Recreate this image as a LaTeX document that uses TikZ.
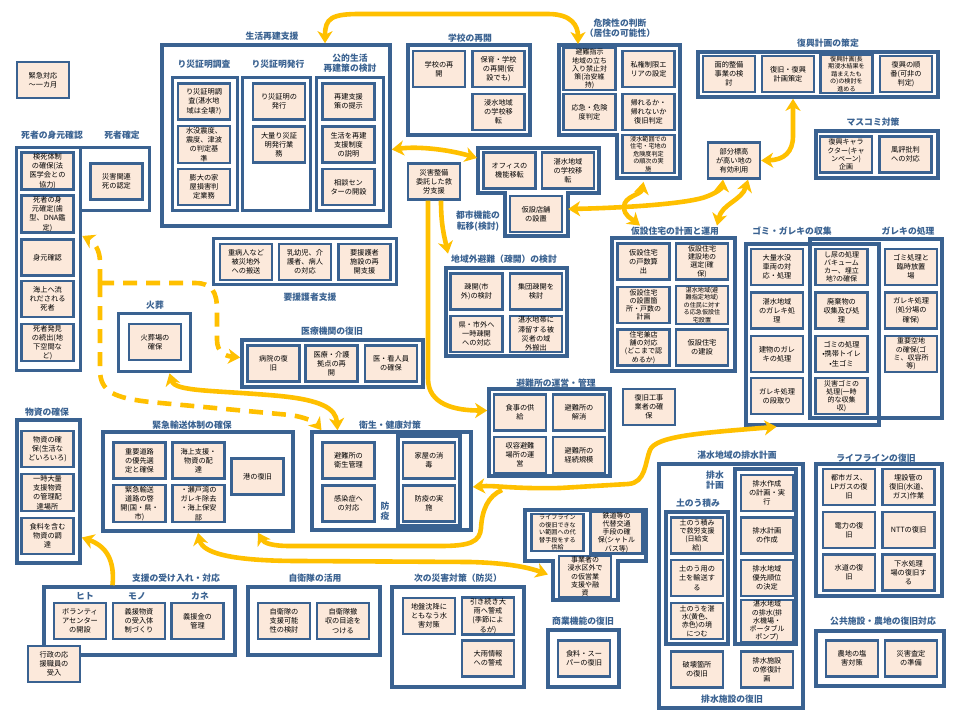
\documentclass[tikz,border=0pt]{standalone}
\usepackage{fontspec}
\setmainfont{Noto Sans CJK JP}
\usepackage{tikz}
\usetikzlibrary{arrows.meta,positioning,calc}
\definecolor{frameblue}{HTML}{3A6291}
\definecolor{cardfill}{HTML}{FCE9DB}
\definecolor{linkgold}{HTML}{FFC000}
\tikzset{
  card/.style={draw=frameblue,fill=cardfill,line width=2.2pt,
               minimum width=52pt,minimum height=36pt,inner sep=1pt,
               align=center,font=\fontsize{7.2}{9.2}\selectfont},
  tightcard/.style={card,font=\fontsize{7}{8.2}\selectfont},
  tinycard/.style={card,font=\fontsize{6.1}{7.5}\selectfont},
  groupframe/.style={draw=frameblue,line width=3.6pt,inner sep=0pt},
  subframe/.style={draw=frameblue,line width=3.2pt,inner sep=0pt},
  grouphead/.style={text=frameblue,font=\fontsize{8.8}{10.4}\selectfont\bfseries,
                    align=center,inner sep=1pt},
  link/.style={draw=linkgold,line width=4.6pt,
               arrows={-Stealth[length=12pt,width=15pt,inset=3.5pt]}},
  twoway/.style={link,arrows={Stealth[length=12pt,width=15pt,inset=3.5pt]-Stealth[length=12pt,width=15pt,inset=3.5pt]}},
  dashlink/.style={link,dash pattern=on 14pt off 9pt}
}

\begin{document}
\begin{tikzpicture}[x=1pt,y=-1pt]
  \fill[white] (0,0) rectangle (953,720);

  % group frames
  \node[groupframe,minimum width=228pt,minimum height=181pt] (seikatsu) at (276,135.5) {};
  \node[subframe,minimum width=65pt,minimum height=133pt] (sf-chousa) at (205,144) {};
  \node[subframe,minimum width=68pt,minimum height=133pt] (sf-hakkou) at (276.5,144) {};
  \node[subframe,minimum width=67pt,minimum height=133pt] (sf-kouteki) at (350,144) {};
  \node[groupframe,minimum width=64pt,minimum height=223pt] (shisha1) at (48.5,259) {};
  \node[groupframe,minimum width=69pt,minimum height=63pt] (shisha2) at (115,179) {};
  \node[groupframe,minimum width=72pt,minimum height=58pt] (kasou) at (154.5,342.5) {};
  \node[groupframe,minimum width=183pt,minimum height=46pt] (youengo) at (305,261.5) {};
  \node[groupframe,minimum width=181pt,minimum height=47pt] (iryou) at (332.5,363.5) {};
  \node[groupframe,minimum width=63pt,minimum height=143pt] (busshi) at (48.5,491.5) {};
  \node[groupframe,minimum width=190pt,minimum height=99pt] (yusou) at (198,481.5) {};
  \node[groupframe,minimum width=159pt,minimum height=98pt] (eisei) at (391.5,481) {};
  \node[subframe,minimum width=62pt,minimum height=90pt] (sf-boueki) at (429,481) {};
  \node[groupframe,minimum width=191pt,minimum height=68pt] (ukeire) at (139.5,621) {};
  \node[groupframe,minimum width=132pt,minimum height=68pt] (jieitai) at (314,621) {};
  \node[groupframe,minimum width=132pt,minimum height=100pt] (bousai) at (458,637) {};
  \node[groupframe,minimum width=71pt,minimum height=57pt] (shougyou) at (583.5,658.5) {};
  \node[groupframe,minimum width=122pt,minimum height=90pt] (gakkou) at (469,90) {};
  \node[groupframe,minimum width=240pt,minimum height=45pt] (fukkou) at (818,74.5) {};
  \node[groupframe,minimum width=122pt,minimum height=47pt] (masukomi) at (877,154.5) {};
  \node[groupframe,minimum width=123pt,minimum height=133pt] (kasetsu) at (673.5,304.5) {};
  \node[groupframe,minimum width=133pt,minimum height=181pt] (gomi) at (812.5,334.5) {};
  \node[groupframe,minimum width=132pt,minimum height=179pt] (gareki) at (876,328.5) {};
  \node[groupframe,minimum width=144pt,minimum height=244pt] (haisui) at (731,586) {};
  \node[subframe,minimum width=62pt,minimum height=132pt] (sf-donou) at (697,578) {};
  \node[subframe,minimum width=61pt,minimum height=175pt] (sf-haisui) at (765.5,556.5) {};
  \node[groupframe,minimum width=126pt,minimum height=132pt] (lifeline) at (879,530) {};
  \node[groupframe,minimum width=128pt,minimum height=55pt] (koukyou) at (880,658.5) {};
  \node[groupframe,minimum width=121pt,minimum height=88pt] (sokai) at (506.5,312) {};
  \node[groupframe,minimum width=121pt,minimum height=87pt] (hinanjo) at (549.5,432.5) {};

  % stepped frames
  \draw[frameblue,line width=3.6pt] (559,45) -- (680,45) -- (680,178) -- (617,178)
    -- (617,135) -- (559,135) -- cycle;
  \draw[frameblue,line width=3.6pt] (478,148) -- (599,148) -- (599,193) -- (568,193)
    -- (568,236) -- (505,236) -- (505,193) -- (478,193) -- cycle;
  \draw[frameblue,line width=3.6pt] (525,510) -- (646,510) -- (646,561) -- (618,561)
    -- (618,600) -- (553,600) -- (553,561) -- (525,561) -- cycle;
  \coordinate (kikentop) at (578,44);
  \coordinate (toshiwest) at (477,158);

  % headings
  \node[grouphead] (h-seikatsu) at (272,36) {生活再建支援};
  \node[grouphead] (h-chousa) at (204,64) {り災証明調査};
  \node[grouphead] (h-hakkou) at (278,64) {り災証明発行};
  \node[grouphead] (h-kouteki) at (350,63) {公的生活\\再建策の検討};
  \node[grouphead] (h-mimoto) at (52,135) {死者の身元確認};
  \node[grouphead] (h-kakutei) at (122,135) {死者確定};
  \node[grouphead] (h-kasou) at (155,305) {火葬};
  \node[grouphead] (h-youengo) at (310,297) {要援護者支援};
  \node[grouphead] (h-iryou) at (332,331) {医療機関の復旧};
  \node[grouphead] (h-busshi) at (47,412) {物資の確保};
  \node[grouphead] (h-yusou) at (192,425) {緊急輸送体制の確保};
  \node[grouphead] (h-eisei) at (390,425) {衛生・健康対策};
  \node[grouphead] (l-boueki) at (385,511) {防\\疫};
  \node[grouphead] (h-ukeire) at (176,578) {支援の受け入れ・対応};
  \node[grouphead] (h-hito) at (85,596) {ヒト};
  \node[grouphead] (h-mono) at (137,596) {モノ};
  \node[grouphead] (h-kane) at (200,596) {カネ};
  \node[grouphead] (h-jieitai) at (315,578) {自衛隊の活用};
  \node[grouphead] (h-bousai) at (458,578) {次の災害対策（防災）};
  \node[grouphead] (h-shougyou) at (583,621) {商業機能の復旧};
  \node[grouphead] (h-gakkou) at (470,38) {学校の再開};
  \node[grouphead] (h-toshi) at (478,221) {都市機能の\\転移(検討)};
  \node[grouphead] (h-kiken) at (620,28) {危険性の判断\\（居住の可能性）};
  \node[grouphead] (h-fukkou) at (828,43) {復興計画の策定};
  \node[grouphead] (h-masukomi) at (873,122) {マスコミ対策};
  \node[grouphead] (h-kasetsu) at (675,231) {仮設住宅の計画と運用};
  \node[grouphead] (h-gomi) at (792,231) {ゴミ・ガレキの収集};
  \node[grouphead] (h-gareki) at (908,231) {ガレキの処理};
  \node[grouphead] (h-haisui) at (737,455) {湛水地域の排水計画};
  \node[grouphead] (l-haisuikeikaku) at (715,480) {排水\\計画};
  \node[grouphead] (l-donou) at (698,503) {土のう積み};
  \node[grouphead] (l-shisetsu) at (732,699) {排水施設の復旧};
  \node[grouphead] (h-lifeline) at (876,458) {ライフラインの復旧};
  \node[grouphead] (h-koukyou) at (883,621) {公共施設・農地の復旧対応};
  \node[grouphead] (h-sokai) at (504,259) {地域外避難（疎開）の検討};
  \node[grouphead] (h-hinanjo) at (556,383) {避難所の運営・管理};

  % cards
  \node[card] (kinkyu) at (43,80) {緊急対応\\〜一カ月};

  \node[card] (chousa1) at (204,101.5) {り災証明調\\査(湛水地\\域は全壊?)};
  \node[card] (chousa2) at (204,144.5) {水没震度、\\震度、津波\\の判定基\\準};
  \node[card] (chousa3) at (204,187) {膨大の家\\屋損害判\\定業務};
  \node[card] (hakkou1) at (279,101.5) {り災証明の\\発行};
  \node[card] (hakkou2) at (279,144.5) {大量り災証\\明発行業\\務};
  \node[card] (kouteki1) at (348.5,101.5) {再建支援\\策の提示};
  \node[card] (kouteki2) at (348.5,144.5) {生活を再建\\支援制度\\の説明};
  \node[card] (kouteki3) at (348.5,187) {相談セン\\ターの開設};

  \node[card] (kenshi) at (47.5,171) {検死体制\\の確保(法\\医学会との\\協力)};
  \node[card] (mimoto1) at (47.5,214) {死者の身\\元確定(歯\\型、DNA鑑\\定)};
  \node[card] (mimoto2) at (47.5,257.5) {身元確認};
  \node[card] (kaijou) at (47.5,299) {海上へ流\\れだされる\\死者};
  \node[card] (hakken) at (47.5,342.5) {死者発見\\の続出(地\\下空間な\\ど)};
  \node[card] (kanren) at (116.5,181.5) {災害関連\\死の認定};

  \node[card] (kasouba) at (155,342) {火葬場の\\確保};

  \node[card] (juubyou) at (246,262) {重病人など\\被災地外\\への搬送};
  \node[card] (nyuuyou) at (305,262) {乳幼児、介\\護者、病人\\の対応};
  \node[card] (shisetsu) at (364.5,262) {要援護者\\施設の再\\開支援};

  \node[card] (byouin) at (273.5,363.5) {病院の復\\旧};
  \node[card] (kyoten) at (331.5,363.5) {医療・介護\\拠点の再\\開};
  \node[card] (jinin) at (391,363.5) {医・看人員\\の確保};

  \node[card] (busshi1) at (47.5,449) {物資の確\\保(生活な\\どいろいろ)};
  \node[card] (busshi2) at (47.5,492.5) {一時大量\\支援物資\\の管理配\\達場所};
  \node[card] (busshi3) at (47.5,536) {食料を含む\\物資の調\\達};

  \node[card] (douro) at (139.5,460.5) {重要道路\\の優先選\\定と確保};
  \node[card] (kaijoushien) at (198.5,460.5) {海上支援・\\物資の配\\達};
  \node[card] (minato) at (257.5,476.5) {港の復旧};
  \node[card] (keikai) at (139.5,503.5) {緊急輸送\\道路の啓\\開(国・県・\\市)};
  \node[card] (setowan) at (198.5,503.5) {・瀬戸湾の\\ガレキ除去\\・海上保安\\部};

  \node[card] (eisei1) at (348.5,460.5) {避難所の\\衛生管理};
  \node[card] (kansen) at (348.5,503.5) {感染症へ\\の対応};
  \node[card] (shoudoku) at (429,460.5) {家屋の消\\毒};
  \node[card] (boueki) at (429,503.5) {防疫の実\\施};

  \node[card] (volunteer) at (80,621) {ボランティ\\アセンター\\の開設};
  \node[card] (gienbusshi) at (139,621) {義援物資\\の受入体\\制づくり};
  \node[card] (gienkin) at (197.5,621) {義援金の\\管理};
  \node[card] (ouen) at (54,664) {行政の応\\援職員の\\受入};

  \node[card] (jieitai1) at (284,621) {自衛隊の\\支援可能\\性の検討};
  \node[card] (jieitai2) at (343,621) {自衛隊撤\\収の目途を\\つける};

  \node[card] (jiban) at (429,616) {地盤沈降に\\ともなう水\\害対策};
  \node[card] (ooame1) at (488,616) {引き続き大\\雨へ警戒\\(季節によ\\るが)};
  \node[card] (ooame2) at (488,658.5) {大雨情報\\への警戒};

  \node[card] (super) at (584,658.5) {食料・スー\\パーの復旧};

  \node[tinycard] (daitai1) at (557.5,532.5) {ライフライン\\の復旧できな\\い範囲への代\\替手段をする\\供給};
  \node[tightcard] (daitai2) at (616.5,532.5) {鉄道等の\\代替交通\\手段の確\\保(シャトル\\バス等)};
  \node[tightcard] (jigyou) at (585,576.5) {事業者の\\浸水区外で\\の仮営業\\支援や融\\資};

  \node[card] (gakkou1) at (439,69) {学校の再\\開};
  \node[card] (gakkou2) at (498.5,69) {保育・学校\\の再開(仮\\設でも)};
  \node[card] (gakkou3) at (498.5,112) {浸水地域\\の学校移\\転};

  \node[card] (office) at (509.5,170.5) {オフィスの\\機能移転};
  \node[card] (iten) at (568,170.5) {湛水地域\\の学校移\\転};
  \node[card] (tenpo) at (536,214) {仮設店舗\\の設置};

  \node[card] (saigai) at (434,181.5) {災害整備\\委託した救\\労支援};

  \node[tightcard] (hinan) at (589.5,69) {避難指示\\地域の立ち\\入り禁止対\\策(治安維\\持)};
  \node[card] (shiken) at (648.5,69) {私権制限エ\\リアの設定};
  \node[card] (oukyuu) at (589.5,112) {応急・危険\\度判定};
  \node[card] (kaereru) at (648.5,112) {帰れるか・\\帰れないか\\復旧判定};
  \node[tinycard] (shinsui) at (648.5,154) {浸水範囲での\\住宅・宅地の\\危険度判定\\の順次の実\\施};

  \node[card] (menteki) at (729,74) {面的整備\\事業の検\\討};
  \node[card] (keikaku) at (788,74) {復旧・復興\\計画策定};
  \node[tinycard] (chouki) at (846.5,74) {復興計画(長\\期浸水結果を\\踏まえたも\\の)の検討を\\進める};
  \node[card] (junban) at (906,74) {復興の順\\番(可非の\\判定)};

  \node[tightcard] (chara) at (846,154.5) {復興キャラ\\クター(キャ\\ンペーン)\\企画};
  \node[card] (fuuhyou) at (905.5,154.5) {風評批判\\への対応};

  \node[card] (bubun) at (734,160.5) {部分標高\\が高い地の\\有効利用};

  \node[card] (kosuu) at (643.5,261.5) {仮設住宅\\の戸数算\\出};
  \node[tightcard] (kensetsuchi) at (702,261.5) {仮設住宅\\建設地の\\選定(確\\保)};
  \node[tightcard] (secchi) at (643.5,305) {仮設住宅\\の設置箇\\所・戸数の\\計画};
  \node[tinycard] (tansui) at (702,305) {湛水地域(避\\難指定地域)\\の住民に対す\\る応急仮設住\\宅設置};
  \node[tightcard] (kenten) at (643.5,347.5) {住宅兼店\\舗の対応\\(どこまで認\\めるか)};
  \node[card] (kensetsu) at (702,347.5) {仮設住宅\\の建設};

  \node[card] (gyousha) at (649,407) {復旧工事\\業者の確\\保};

  \node[card] (sharyou) at (777,267) {大量水没\\車両の対\\応・処理};
  \node[card] (tansuigareki) at (777,310.5) {湛水地域\\のガレキ処\\理};
  \node[card] (tatemono) at (777,354) {建物のガレ\\キの処理};
  \node[card] (dandori) at (777,396) {ガレキ処理\\の段取り};
  \node[tightcard] (shinyou) at (841.5,267) {し尿の処理\\バキューム\\カー、埋立\\地?の確保};
  \node[card] (haikibutsu) at (841.5,310.5) {廃棄物の\\収集及び処\\理};
  \node[card] (gomishori) at (841.5,354) {ゴミの処理\\•携帯トイレ\\•生ゴミ};
  \node[tightcard] (saigaigomi) at (841.5,396) {災害ゴミの\\処理(一時\\的な収集\\収)};
  \node[card] (rinji) at (911,267) {ゴミ処理と\\臨時放置\\場};
  \node[card] (shobunjou) at (911,310.5) {ガレキ処理\\(処分場の\\確保)};
  \node[tightcard] (akichi) at (911,354) {重要空地\\の確保(ゴ\\ミ、収容所\\等)};

  \node[tightcard] (donou1) at (697,535.5) {土のう積み\\で救労支援\\(日給支\\給)};
  \node[card] (donou2) at (697,578) {土のう用の\\土を輸送す\\る};
  \node[tightcard] (donou3) at (697,621) {土のうを湛\\水(黄色、\\赤色)の境\\につむ};
  \node[card] (haisui1) at (767,493) {排水作成\\の計画・実\\行};
  \node[card] (haisui2) at (767,535.5) {排水計画\\の作成};
  \node[card] (haisui3) at (767,578) {排水地域\\優先順位\\の決定};
  \node[tightcard] (haisui4) at (767,621) {湛水地域\\の排水(排\\水機場・\\ポータブル\\ポンプ)};
  \node[card] (hakai) at (697,669.5) {破壊箇所\\の復旧};
  \node[card] (shuufuku) at (767,669.5) {排水施設\\の修復計\\画};

  \node[card] (gas) at (849,487) {都市ガス、\\LPガスの復\\旧};
  \node[card] (maisetsu) at (908.5,487) {埋設管の\\復旧(水道、\\ガス)作業};
  \node[card] (denryoku) at (849,530) {電力の復\\旧};
  \node[card] (ntt) at (908.5,530) {NTTの復旧};
  \node[card] (suidou) at (849,572.5) {水道の復\\旧};
  \node[card] (gesui) at (908.5,572.5) {下水処理\\場の復旧す\\る};

  \node[card] (nouchi) at (852,658.5) {農地の塩\\害対策};
  \node[card] (satei) at (911,658.5) {災害査定\\の準備};

  \node[card] (sokai1) at (476.5,291.5) {疎開(市\\外)の検討};
  \node[card] (sokai2) at (536,291.5) {集団疎開を\\検討};
  \node[card] (sokai3) at (476.5,334) {県・市外へ\\一時疎開\\への対応};
  \node[card] (sokai4) at (536,334) {湛水地帯に\\滞留する被\\災者の域\\外搬出};

  \node[card] (kyoukyuu) at (520,412.5) {食事の供\\給};
  \node[card] (kaishou) at (579,412.5) {避難所の\\解消};
  \node[card] (unei) at (520,455) {収容避難\\場所の運\\営};
  \node[card] (keizoku) at (579,455) {避難所の\\経続規模};

  % links
  \coordinate (deadfork) at (100,283);
  \coordinate (fork) at (502,490);

  \draw[twoway] ([xshift=49pt]seikatsu.north) .. controls (325,18) and (332,14) .. (360,14)
    -- (548,14) .. controls (572,14) and (578,26) .. (kikentop);
  \draw[twoway] ([yshift=-14pt]seikatsu.east) .. controls (420,146) and (450,150) .. (toshiwest);
  \draw[link] ([xshift=7pt]saigai.south) .. controls (441,225) and (444,235) .. ([xshift=-2pt]h-sokai.north west);
  \draw[link] ([xshift=-6pt]saigai.south) -- ++(0,178) .. controls +(0,26) and +(-32,0) .. ([yshift=22pt]hinanjo.west);

  \draw[dashlink] (deadfork) -- (100,262) .. controls (100,250) and (94,242) .. ([yshift=23pt]shisha1.east);
  \draw[dashlink] (deadfork) -- (195,283) .. controls (212,283) and (217,292) .. (217,310)
    -- (217,340) .. controls (217,352) and (225,356) .. ([yshift=6pt]iryou.west);
  \draw[dashlink] (deadfork) -- (100,370) .. controls (100,392) and (115,398) .. (150,402)
    -- (290,415) .. controls (305,417) and (315,422) .. ([xshift=-70pt]eisei.north);

  \draw[twoway] ([xshift=15pt]kasou.south) .. controls (175,392) and (215,390) .. (280,396)
    .. controls (320,400) and (336,408) .. ([xshift=-54pt]eisei.north);

  \draw[twoway] ([yshift=-6pt]eisei.east) .. controls (495,485) and (510,489) .. (560,488)
    -- (628,484) .. controls (646,483) and (645,462) .. (650,450)
    .. controls (656,436) and (700,433) .. ([xshift=-36pt]gomi.south);
  \draw[link] (fork) .. controls (488,496) and (482,510) .. (481,528)
    .. controls (480,542) and (470,546) .. (440,546) -- (290,546)
    .. controls (272,546) and (264,543) .. ([xshift=60pt]yusou.south);
  \draw[twoway] (yusou.south) .. controls (203,555) and (240,561) .. (300,561)
    -- (470,562) .. controls (510,563) and (530,568) .. ([xshift=-10pt,yshift=2pt]jigyou.west);

  \draw[twoway] ([xshift=5pt,yshift=5pt]tenpo.east) .. controls (620,208) and (690,204) .. (708,196)
    .. controls (718,192) and (722,188) .. ([xshift=-11pt]bubun.south);
  \draw[twoway] ([xshift=-5pt,yshift=-8pt]shinsui.south) .. controls (641,195) and (624,196) .. (624,207)
    .. controls (624,216) and (632,219) .. ([xshift=-35pt]h-kasetsu.north);
  \draw[twoway] ([xshift=14pt]bubun.south) .. controls (742,200) and (722,204) .. ([xshift=42pt]h-kasetsu.north);
  \draw[twoway] (bubun.east) .. controls (784,160) and (793,152) .. (793,136) -- ([xshift=-25pt]fukkou.south);

  \draw[link] ([xshift=-27pt]ukeire.north) .. controls (115,560) and (106,546) .. ([yshift=-46pt]busshi.east);
\end{tikzpicture}
\end{document}
